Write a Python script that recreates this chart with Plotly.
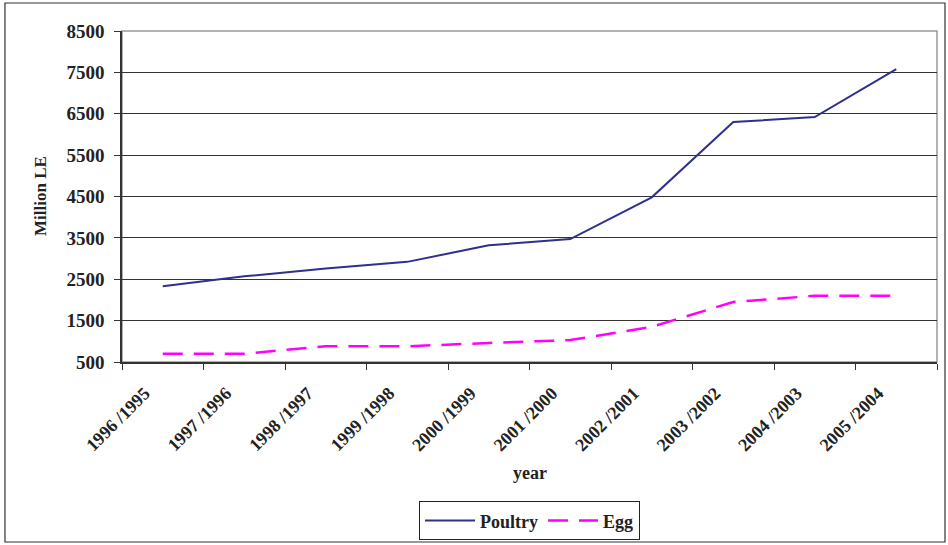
import plotly.graph_objects as go

years = ["1996 /1995", "1997 /1996", "1998 /1997", "1999 /1998", "2000 /1999",
         "2001 /2000", "2002 /2001", "2003 /2002", "2004 /2003", "2005 /2004"]
poultry = [2330, 2570, 2760, 2920, 3320, 3470, 4480, 6300, 6420, 7580]
egg = [700, 700, 880, 880, 960, 1030, 1350, 1950, 2100, 2100]
y_ticks = [500, 1500, 2500, 3500, 4500, 5500, 6500, 7500, 8500]

serif = "Liberation Serif"

fig = go.Figure()
fig.add_trace(go.Scatter(x=years, y=poultry, name="Poultry", mode="lines",
                         line=dict(color="#2f2f8f", width=2)))
fig.add_trace(go.Scatter(x=years, y=egg, name="Egg", mode="lines",
                         line=dict(color="#ff00ff", width=2.5, dash="20px,11px")))

fig.update_layout(
    width=948, height=545,
    margin=dict(l=122, r=11, t=31, b=183, autoexpand=False),
    paper_bgcolor="white", plot_bgcolor="white",
    font=dict(family=serif, color="#222", size=18),
    showlegend=True,
    legend=dict(orientation="h", x=0.5, xanchor="center", y=-0.48, yanchor="middle",
                bordercolor="#222", borderwidth=1,
                font=dict(size=18, family=serif, weight="bold"),
                itemwidth=50, tracegroupgap=0, bgcolor="white"),
    xaxis=dict(type="category", range=[-0.5, 9.5], tickson="boundaries",
               ticks="outside", ticklen=6, tickcolor="#333", showgrid=False,
               showline=True, linecolor="#333", linewidth=1.5, automargin=False,
               tickangle=-45, tickfont=dict(size=18, family=serif, weight="bold"),
               ticklabelshift=-18, ticklabelstandoff=12),
    yaxis=dict(range=[500, 8500], tickvals=y_ticks, ticks="outside", ticklen=6,
               tickcolor="#333", showline=True, linecolor="#333", linewidth=1.5,
               showgrid=True, gridcolor="#333", gridwidth=1.2, zeroline=False,
               ticklabelstandoff=6, automargin=False,
               tickfont=dict(size=19, family=serif, weight="bold")),
    annotations=[
        dict(text="year", x=0.5, y=-0.335, xref="paper", yref="paper", showarrow=False,
             font=dict(size=18, family=serif, weight="bold"),
             xanchor="center", yanchor="middle"),
        dict(text="Million LE", x=-0.1, y=0.5, xref="paper", yref="paper", showarrow=False,
             textangle=-90, font=dict(size=17, family=serif, weight="bold"),
             xanchor="center", yanchor="middle"),
    ],
    shapes=[
        dict(type="rect", xref="paper", yref="paper", x0=0, x1=1, y0=0, y1=1,
             line=dict(color="#999", width=1.5), layer="below"),
        dict(type="rect", xref="paper", yref="paper", x0=-0.1436, x1=1.0098,
             y0=-0.5438, y1=1.0846, line=dict(color="#333", width=1.2)),
    ],
)

fig.write_html("out.html")
